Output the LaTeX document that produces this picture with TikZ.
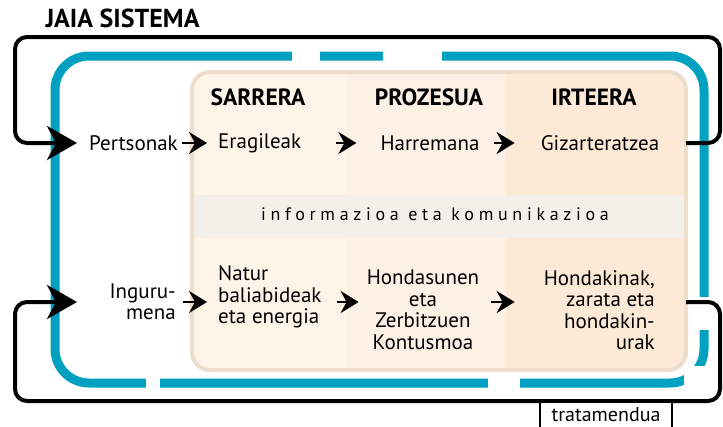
\documentclass[tikz,border=0pt]{standalone}
\usepackage{fontspec}
\setmainfont{PT Sans}
\usetikzlibrary{arrows.meta}

\definecolor{frameblue}{RGB}{0,160,192}
\definecolor{panelA}{RGB}{254,244,232}
\definecolor{panelB}{RGB}{253,241,229}
\definecolor{panelC}{RGB}{252,234,214}
\definecolor{bandgray}{RGB}{245,239,233}
\definecolor{paneltan}{RGB}{236,222,202}

\begin{document}
\begin{tikzpicture}[x=1pt, y=-1pt,
    txt/.style={font=\fontsize{21}{21.5}\selectfont, inner sep=2pt},
    head/.style={font=\fontsize{23.5}{26}\selectfont\bfseries},
    flow/.style={-{Stealth[length=18pt,width=22pt,inset=6pt]}, line width=2.5pt},
    loopline/.style={line width=4pt, rounded corners=12pt, -{Stealth[length=30pt,width=34pt,inset=9pt]}}]
    \useasboundingbox (0,0) rectangle (723,426);

    % kanpoko marko urdina
    \draw[frameblue, line width=9pt, rounded corners=34pt] (55,56) rectangle (704,383);
    \fill[white] (146,374) rectangle (160,393);
    \fill[white] (488,374) rectangle (520,393);
    \fill[white] (696,297) rectangle (714,330);
    \fill[white] (292,46) rectangle (320,66);
    \fill[white] (383,46) rectangle (442,66);
    \fill[white] (684,366) rectangle (714,393);

    % panela
    \begin{scope}
        \clip[rounded corners=18pt] (192,72) rectangle (686,370);
        \fill[panelA] (192,72) rectangle (347,370);
        \fill[panelB] (347,72) rectangle (506,370);
        \fill[panelC] (506,72) rectangle (686,370);
        \fill[bandgray] (192,195) rectangle (686,238);
    \end{scope}
    \draw[paneltan, line width=4pt, rounded corners=18pt] (192,72) rectangle (686,370);

    \node[font=\fontsize{26}{28}\selectfont\bfseries, anchor=west] (title) at (42,18) {JAIA SISTEMA};

    \node[head] (sarrera) at (258,97) {SARRERA};
    \node[head] (prozesua) at (429,97) {PROZESUA};
    \node[head] (irteera) at (594,97) {IRTEERA};

    \node[txt, anchor=east] (pers) at (180,143) {Pertsonak};
    \node[txt, anchor=west] (erag) at (216,143) {Eragileak};
    \node[txt] (harr) at (430,143) {Harremana};
    \node[txt] (giz) at (600,143) {Gizarteratzea};

    \node[font=\fontsize{18}{20}\selectfont\addfontfeatures{LetterSpace=26}] (info) at (435,214) {informazioa eta komunikazioa};

    \node[txt, anchor=east, align=right] (ingu) at (178,302) {Inguru-\\mena};
    \node[txt, anchor=west, align=left] (natur) at (216,297) {Natur\\baliabideak\\eta energia};
    \node[txt, align=center] (ondasun) at (423,310) {Hondasunen\\eta\\Zerbitzuen\\Kontusmoa};
    \node[txt, anchor=east, align=right] (hondak) at (657,310) {Hondakinak,\\zarata eta\\hondakin-\\urak};

    % geziak
    \draw[flow, shorten <=2pt, shorten >=9pt] (pers.east) -- (erag.west);
    \draw[flow, shorten <=33pt, shorten >=22pt] (erag.east) -- (harr.west);
    \draw[flow, shorten <=12pt, shorten >=24pt] (harr.east) -- (giz.west);
    \draw[flow, shorten <=5pt, shorten >=9pt] (ingu.east) -- (ingu.east -| natur.west);
    \draw[flow, shorten <=13pt, shorten >=6pt] (ingu.east -| natur.east) -- (ingu.east -| ondasun.west);
    \draw[flow, shorten <=10pt, shorten >=27pt] (ingu.east -| ondasun.east) -- (ingu.east -| hondak.west);

    % atzeraelikadura
    \coordinate (topout) at (686,143);
    \coordinate (botout) at (686,302);
    \draw[loopline, shorten >=10pt] (topout) -- (720,143) -- (720,37) -- (15,37) -- (15,143) -- (pers.west);
    \draw[loopline, shorten >=10pt] (botout) -- (720,302) -- (720,401) -- (15,401) -- (15,302) -- (pers.west |- ingu.east);

    \node[draw, line width=1.2pt, fill=white, minimum width=132pt, minimum height=26pt, inner sep=0pt,
          font=\fontsize{20}{22}\selectfont] (trat) at (606,415) {tratamendua};
\end{tikzpicture}
\end{document}
